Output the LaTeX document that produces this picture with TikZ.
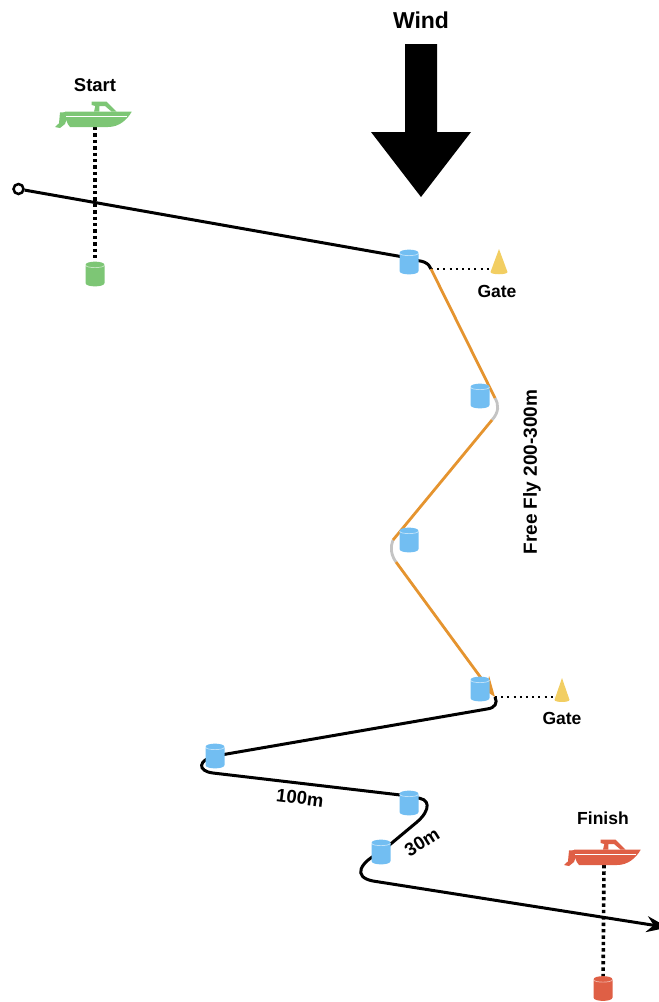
\documentclass[tikz,border=0pt]{standalone}
\usepackage{fontspec}
\setmainfont{Liberation Sans}
\usetikzlibrary{arrows.meta,backgrounds}
\definecolor{buoyblue}{HTML}{72BEF2}
\definecolor{boatgreen}{HTML}{7DC675}
\definecolor{boatred}{HTML}{DF5F45}
\definecolor{coneyellow}{HTML}{F2CE62}
\definecolor{flyorange}{HTML}{E5942F}
\definecolor{turngray}{HTML}{C4C4C4}
\tikzset{
    course/.style={line width=3pt},
    fly/.style={line width=2.8pt,color=flyorange},
    turn/.style={line width=2.8pt,color=turngray},
    boatline/.style={line width=3.6pt,dash pattern=on 3.4pt off 3pt},
    gateline/.style={line width=2pt,dash pattern=on 2pt off 4.2pt},
    tag/.style={font=\bfseries\fontsize{17.5}{17.5}\selectfont,inner sep=0pt},
    buoy/.style={minimum width=19pt,minimum height=25pt,inner sep=0pt},
    pics/boat/.style={code={
        \fill[#1] (-30,-15.3) -- (36.7,-15.3) .. controls (32,-7) and (24,0) .. (13,0) -- (-25,0) .. controls (-28,-3) and (-30,-9) .. cycle;
        \fill[#1] (-28,-15) -- (-35,-14.5) -- (-36,-3.7) -- (-40,0) -- (-35,1) -- (-30,-3) -- (-28,-9) -- cycle;
        \fill[#1] (-3.3,-25.3) -- (11.7,-25.3) -- (21.7,-15.3) -- (16.7,-15.3) -- (10,-21) -- (4.3,-21) -- (4.3,-15.3) -- (-1,-15.3) -- (0.3,-21) -- (-3.3,-22) -- cycle;
        \draw[white,line width=0.9pt] (-29,-11) -- (32,-11);
    }},
    pics/cone/.style={code={
        \fill[coneyellow] (0,0) -- (#1,23) .. controls (#1,26) and (-#1,26) .. (-#1,23) -- cycle;
    }}
}
\begin{document}
\begin{tikzpicture}[x=1pt,y=-1pt]
    \useasboundingbox (0,0) rectangle (659,1002);

    \node [tag,font=\bfseries\fontsize{23}{23}\selectfont] (wind) at (421,20) {Wind};
    \fill (405,44) -- (437,44) -- (437,132) -- (471,132) -- (421,197) -- (371,132) -- (405,132) -- cycle;

    \node [tag,font=\bfseries\fontsize{18.5}{18.5}\selectfont] (start) at (95,85) {Start};
    \node [tag] (finish) at (603,818) {Finish};
    \node [tag] (gateup) at (497,291) {Gate};
    \node [tag] (gatedown) at (562,718) {Gate};
    \node [tag,font=\bfseries\fontsize{19}{19}\selectfont,rotate=90] (freefly) at (532,472) {Free Fly 200-300m};
    \node [tag,font=\bfseries\fontsize{18.5}{18.5}\selectfont,rotate=-7] (long) at (300,798) {100m};
    \node [tag,font=\bfseries\fontsize{18.5}{18.5}\selectfont,rotate=32] (short) at (422,842) {30m};

    \node [buoy] (buoya) at (409,262) {};
    \node [buoy] (buoyb) at (480,396) {};
    \node [buoy] (buoyc) at (409,540) {};
    \node [buoy] (buoyd) at (480,689) {};
    \node [buoy] (buoye) at (215,756) {};
    \node [buoy] (buoyf) at (409,803) {};
    \node [buoy] (buoyg) at (381,852) {};
    \node [buoy] (buoystart) at (95,274) {};
    \node [buoy] (buoyfinish) at (603,988.5) {};
    \foreach \name/\col in {buoya/buoyblue,buoyb/buoyblue,buoyc/buoyblue,buoyd/buoyblue,buoye/buoyblue,buoyf/buoyblue,buoyg/buoyblue,buoystart/boatgreen,buoyfinish/boatred} {
        \begin{scope}[shift={(\name.center)}]
            \fill [\col] (-9.5,-9) .. controls (-9.5,-13.5) and (9.5,-13.5) .. (9.5,-9) -- (9.5,9) .. controls (9.5,13.5) and (-9.5,13.5) .. (-9.5,9) -- cycle;
            \draw [white,opacity=0.55,line width=0.7pt] (-9.5,-9) .. controls (-9.5,-5.5) and (9.5,-5.5) .. (9.5,-9);
        \end{scope}
    }

    \coordinate (boatstart) at (95,127);
    \coordinate (boatfinish) at (604,865);
    \pic at (boatstart) {boat=boatgreen};
    \pic at (boatfinish) {boat=boatred};
    \coordinate (coneup) at (499,249);
    \coordinate (conedown) at (562,678);
    \pic at (coneup) {cone=8.5};
    \pic [yscale=0.95] at (conedown) {cone=7.5};

    \coordinate (turna) at (431,269);
    \coordinate (turnb) at (495,398);
    \coordinate (turnc) at (492,420);
    \coordinate (turnd) at (393,540);
    \coordinate (turne) at (396,562);
    \coordinate (turnf) at (495,697);
    \coordinate (gatea) at (491,269);
    \coordinate (gateb) at (555,697);
    \coordinate (end) at (668,927.5);

    \node [circle,draw,fill=white,line width=2.5pt,minimum size=10pt,inner sep=0pt] (mark) at (18.5,189) {};
    \begin{scope}[on background layer]
        \draw [boatline] (boatstart) -- (buoystart);
        \draw [boatline] (boatfinish) -- (buoyfinish);
        \draw [gateline] (turna) -- (gatea);
        \draw [gateline] (turnf) -- (gateb);
        \draw [course] (mark) -- ([yshift=4pt]buoya.center);
        \draw [course] ([yshift=1pt]buoya.center) .. controls (424,259) and (429,264) .. (turna);
        \draw [course] (turnf) .. controls (498,703) and (495,708) .. (487,709) -- (buoye.center);
        \draw [course] (buoye.center) .. controls (198,760) and (197,771) .. (213,773) -- ([yshift=7pt]buoyf.center);
        \draw [course] ([xshift=5pt,yshift=5pt]buoyf.center) .. controls (431,797) and (431,810) .. (417,822) -- (buoyg.center);
        \draw [course,-{Stealth[scale=1.3]}] (buoyg.center) .. controls (360,862) and (352,877) .. (373,881) -- (end);
        \draw [turn] (turnb) .. controls (499,405) and (499,412) .. (turnc);
        \draw [turn] (turnd) .. controls (390,547) and (391,555) .. (turne);
        \draw [fly] (turna) -- (turnb);
        \draw [fly] (turnc) -- (turnd);
        \draw [fly,-{Stealth[scale=1.3]}] (turne) -- (turnf);
    \end{scope}
\end{tikzpicture}
\end{document}
